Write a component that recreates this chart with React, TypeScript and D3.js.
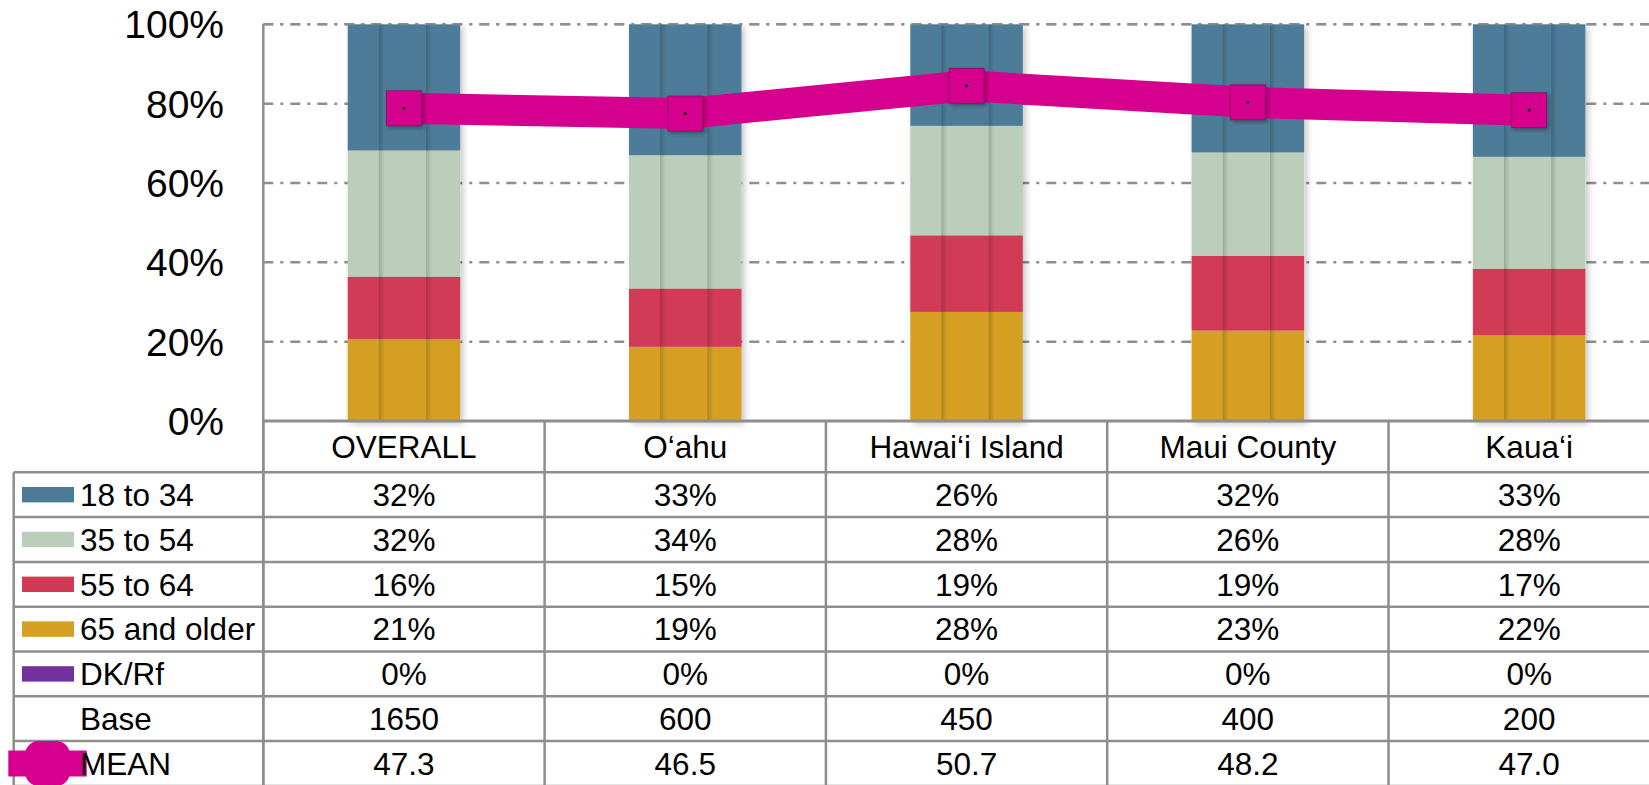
import React from "react";
import * as d3 from "d3";

const categories = ["OVERALL", "O\u2018ahu", "Hawai\u2018i Island", "Maui County", "Kaua\u2018i"];
const age18to34 = [31.8, 33.0, 25.6, 32.3, 33.4];
const age35to54 = [31.8, 33.6, 27.6, 26.1, 28.2];
const age55to64 = [15.8, 14.7, 19.3, 18.8, 16.8];
const age65plus = [20.6, 18.7, 27.5, 22.8, 21.6];
const dkRf = [0, 0, 0, 0, 0];
const bases = [1650, 600, 450, 400, 200];
const means = [47.3, 46.5, 50.7, 48.2, 47.0];
const yTicks = [0, 20, 40, 60, 80, 100];
const gridTicks = [20, 40, 60, 80, 100];

const seriesKeys = ["a65", "a55", "a35", "a18", "dk"];
const seriesInfo: Record<string, { label: string; color: string; values: number[] }> = {
  a18: { label: "18 to 34", color: "#4E7B98", values: age18to34 },
  a35: { label: "35 to 54", color: "#BBCEBB", values: age35to54 },
  a55: { label: "55 to 64", color: "#D13A55", values: age55to64 },
  a65: { label: "65 and older", color: "#D5A024", values: age65plus },
  dk: { label: "DK/Rf", color: "#70309E", values: dkRf },
};
const tableOrder = ["a18", "a35", "a55", "a65", "dk"];
const MEAN_COLOR = "#D6008F";
const GRID = "#8e8e8e";
const FONT = "'Liberation Sans', Arial, Helvetica, sans-serif";

export default function App() {
  const W = 1649;
  const H = 785;
  const axisX = 263.3;
  const bandW = 281.3;
  const plotTop = 24.3;
  const plotBottom = 421;
  const tableLeft = 13.7;
  const headerBottom = 472.3;
  const rowH = 44.8;

  const x = d3.scaleBand<string>().domain(categories).range([axisX, axisX + bandW * categories.length]).padding(0);
  const y = d3.scaleLinear().domain([0, 100]).range([plotBottom, plotTop]);
  const y2 = d3.scaleLinear().domain([0, 60]).range([plotBottom, plotTop]);

  const rows = categories.map((c, i) => {
    const r: any = { cat: c };
    seriesKeys.forEach((k) => (r[k] = seriesInfo[k].values[i]));
    return r;
  });
  const stacked = d3.stack<any>().keys(seriesKeys)(rows);

  const barW = x.bandwidth() * 0.4;
  const cx = (c: string) => (x(c) as number) + x.bandwidth() / 2;

  const linePts: [number, number][] = categories.map((c, i) => [cx(c), y2(means[i])]);
  const lineGen = d3.line().curve(d3.curveLinear);

  const tableRows = [
    ...tableOrder.map((k) => ({
      label: seriesInfo[k].label,
      kind: "swatch",
      color: seriesInfo[k].color,
      cells: seriesInfo[k].values.map((v) => `${Math.round(v)}%`),
    })),
    { label: "Base", kind: "none", color: "", cells: bases.map((b) => `${b}`) },
    { label: "MEAN", kind: "mean", color: MEAN_COLOR, cells: means.map((m) => m.toFixed(1)) },
  ];

  const colEdges = d3.range(categories.length + 1).map((i) => axisX + i * bandW);
  const fs = 31.5;

  return (
    <div style={{ position: "absolute", left: 0, top: 0, width: W, height: H, overflow: "hidden", background: "#fff" }}>
      <svg width={W} height={H} style={{ display: "block", fontFamily: FONT }}>
        <defs>
          <filter id="barShadow" x="-20%" y="-5%" width="140%" height="110%">
            <feDropShadow dx="3" dy="3" stdDeviation="3" floodColor="#000" floodOpacity="0.22" />
          </filter>
          <filter id="mkShadow" x="-40%" y="-40%" width="180%" height="180%">
            <feDropShadow dx="2" dy="2" stdDeviation="2" floodColor="#000" floodOpacity="0.35" />
          </filter>
          <linearGradient id="stripeGrad" x1="0" x2="1" y1="0" y2="0">
            <stop offset="0" stopColor="#000" stopOpacity="0.18" />
            <stop offset="0.4" stopColor="#000" stopOpacity="0.1" />
            <stop offset="1" stopColor="#000" stopOpacity="0" />
          </linearGradient>
        </defs>

        {/* gridlines */}
        {gridTicks.map((t) => (
          <line key={t} x1={axisX} x2={W} y1={y(t)} y2={y(t)} stroke={GRID} strokeWidth={2.5} strokeDasharray="10 7 3 7" />
        ))}

        {/* y tick labels */}
        {yTicks.map((t) => (
          <text key={t} x={224} y={y(t)} dy="0.36em" textAnchor="end" fontSize={39} fill="#000">
            {`${t}%`}
          </text>
        ))}

        {/* bars */}
        {categories.map((c, i) => {
          const x0 = cx(c) - barW / 2;
          return (
            <g key={c}>
              <g filter="url(#barShadow)">
                {stacked.map((s) => {
                  const d = s[i];
                  const h = y(d[0]) - y(d[1]);
                  if (h <= 0) return null;
                  return <rect key={s.key} x={x0} y={y(d[1])} width={barW} height={h} fill={seriesInfo[s.key].color} />;
                })}
              </g>
              {[0.29, 0.71].map((f) => (
                <rect key={f} x={x0 + barW * f - 1.5} y={y(100)} width={6} height={y(0) - y(100)} fill="url(#stripeGrad)" />
              ))}
            </g>
          );
        })}

        {/* top gridline over bars */}
        <line x1={axisX} x2={W} y1={y(100)} y2={y(100)} stroke={GRID} strokeWidth={2.5} strokeDasharray="10 7 3 7" opacity={0.6} />

        {/* axis lines */}
        <line x1={axisX} x2={axisX} y1={plotTop} y2={H} stroke={GRID} strokeWidth={2.5} />
        <line x1={axisX} x2={W} y1={plotBottom} y2={plotBottom} stroke={GRID} strokeWidth={3} />

        {/* mean line */}
        <path d={lineGen(linePts) || ""} fill="none" stroke={MEAN_COLOR} strokeWidth={31} strokeLinejoin="miter" />
        {linePts.map(([px, py], i) => (
          <g key={i}>
            <rect x={px - 17.5} y={py - 17.5} width={35} height={35} fill={MEAN_COLOR} stroke="#7a0050" strokeOpacity={0.6} strokeWidth={1} filter="url(#mkShadow)" />
            <rect x={px - 1.3} y={py - 1.3} width={2.6} height={2.6} fill="#000" />
          </g>
        ))}

        {/* table: header vertical dividers */}
        {colEdges.map((ex, i) => (
          <line key={i} x1={ex} x2={ex} y1={plotBottom} y2={H} stroke={GRID} strokeWidth={2.5} />
        ))}
        {/* table header labels */}
        {categories.map((c) => (
          <text key={c} x={cx(c)} y={(plotBottom + headerBottom) / 2} dy="0.36em" textAnchor="middle" fontSize={fs} fill="#000">
            {c}
          </text>
        ))}
        {/* left column border */}
        <line x1={tableLeft} x2={tableLeft} y1={headerBottom} y2={H} stroke={GRID} strokeWidth={2.5} />
        {/* horizontal row lines */}
        {d3.range(tableRows.length + 1).map((r) => (
          <line key={r} x1={tableLeft} x2={W} y1={headerBottom + r * rowH} y2={headerBottom + r * rowH} stroke={GRID} strokeWidth={2.5} />
        ))}
        {tableRows.map((row, r) => {
          const cy = headerBottom + r * rowH + rowH / 2;
          return (
            <g key={row.label}>
              {row.kind === "swatch" && <rect x={22} y={cy - 7.7} width={52} height={15.4} fill={row.color} />}
              {row.kind === "mean" && (
                <g>
                  <rect x={8.3} y={cy - 13} width={78.4} height={26} fill={MEAN_COLOR} />
                  <rect x={25} y={cy - 22.5} width={45} height={45} rx={14} fill={MEAN_COLOR} />
                </g>
              )}
              <text x={80} y={cy} dy="0.36em" fontSize={fs} fill="#000">
                {row.label}
              </text>
              {row.cells.map((v, i) => (
                <text key={i} x={cx(categories[i])} y={cy} dy="0.36em" textAnchor="middle" fontSize={fs} fill="#000">
                  {v}
                </text>
              ))}
            </g>
          );
        })}
      </svg>
    </div>
  );
}
